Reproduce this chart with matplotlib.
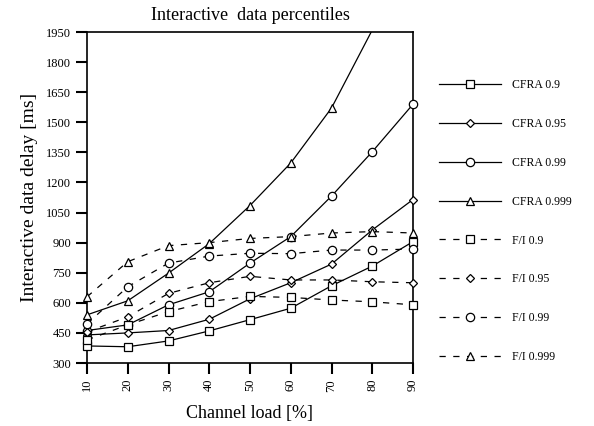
import numpy as np
import matplotlib
matplotlib.use("Agg")
from matplotlib import pyplot as plt
from matplotlib.lines import Line2D

plt.rcParams['font.family'] = ['Liberation Serif', 'DejaVu Serif']

# Channel load [%]
load = [10, 20, 30, 40, 50, 60, 70, 80, 90]

# delay values [ms]
cfra_090 = [385, 381, 410, 460, 516, 573, 685, 783, 905]
cfra_095 = [440, 450, 462, 518, 620, 700, 793, 963, 1115]
cfra_099 = [462, 490, 590, 655, 798, 930, 1132, 1353, 1590]
cfra_0999 = [540, 610, 748, 895, 1085, 1297, 1571, 1960, 2400]
fi_090 = [415, 490, 556, 606, 632, 627, 614, 605, 590]
fi_095 = [455, 530, 647, 700, 732, 714, 714, 705, 700]
fi_099 = [495, 680, 798, 833, 847, 845, 863, 863, 868]
fi_0999 = [630, 805, 885, 900, 921, 930, 948, 955, 948]

labels = ["CFRA 0.9", "CFRA 0.95", "CFRA 0.99", "CFRA 0.999",
          "F/I 0.9", "F/I 0.95", "F/I 0.99", "F/I 0.999"]
series = [cfra_090, cfra_095, cfra_099, cfra_0999,
          fi_090, fi_095, fi_099, fi_0999]
markers = ["s", "D", "o", "^", "s", "D", "o", "^"]
msizes = [5.5, 4.5, 6, 6, 5.5, 4.5, 6, 6]
styles = ["-", "-", "-", "-", (0, (5, 6)), (0, (5, 6)), (0, (5, 6)), (0, (5, 6))]

fig = plt.figure(figsize=(5.94, 4.26), dpi=100)
ax = fig.add_axes([87 / 594, 1 - 363 / 426, 326 / 594, 331 / 426])

ymin, ymax = 300, 1950
handles = []
for y, lab, m, ms, ls in zip(series, labels, markers, msizes, styles):
    y = np.array(y, dtype=float)
    ax.plot(load, y, color="black", lw=0.9, ls=ls)
    keep = y <= ymax
    ax.plot(np.array(load)[keep], y[keep], ls="none", marker=m, ms=ms,
            mfc="white", mec="black", mew=0.9, clip_on=False, zorder=3)
    handles.append(Line2D([], [], color="black", lw=0.9, ls=ls, marker=m,
                          ms=ms, mfc="white", mec="black", mew=0.9))

ax.set_xlim(10, 90)
ax.set_ylim(ymin, ymax)
ax.set_xticks(load)
ax.set_xticklabels([str(v) for v in load], rotation=90, fontsize=9)
ax.set_yticks(np.arange(300, 1951, 150))
ax.set_yticklabels([str(v) for v in np.arange(300, 1951, 150)], fontsize=9)
ax.tick_params(direction="out", length=8, width=1.5)
for s in ax.spines.values():
    s.set_linewidth(1.2)

ax.set_title("Interactive  data percentiles", fontsize=13, pad=9)
ax.set_xlabel("Channel load [%]", fontsize=13, labelpad=10)
ax.set_ylabel("Interactive data delay [ms]", fontsize=14, labelpad=6)

fig.legend(handles, labels, loc="upper left", bbox_to_anchor=(433 / 594, 1 - 73 / 426),
           frameon=False, fontsize=8.5, handlelength=5.3, handletextpad=0.9,
           labelspacing=2.28, borderpad=0)

fig.savefig("out.png", dpi=100)
